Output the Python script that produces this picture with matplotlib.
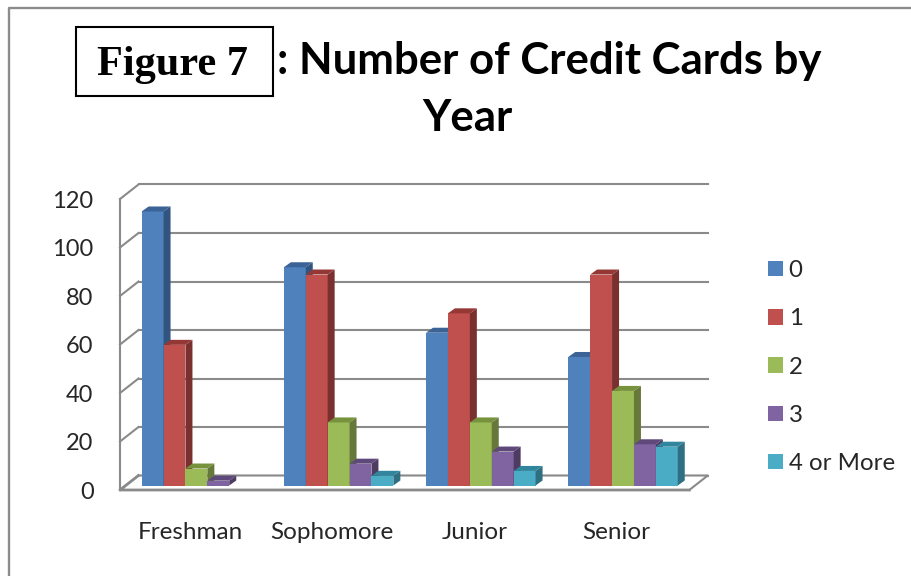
import numpy as np
import matplotlib
matplotlib.use('Agg')
import matplotlib.pyplot as plt

from matplotlib.patches import Polygon, Patch, Rectangle
from matplotlib.transforms import ScaledTranslation


years  = ['Freshman', 'Sophomore', 'Junior', 'Senior']
series = ['0', '1', '2', '3', '4 or More']

cards_0    = [113, 90, 63, 53]
cards_1    = [58, 87, 71, 87]
cards_2    = [7, 26, 26, 39]
cards_3    = [2, 9, 14, 17]
cards_4    = [0, 4, 6, 16]

y_ticks = [0, 20, 40, 60, 80, 100, 120]

front = ['#4f81bd', '#c0504d', '#9bbb59', '#8064a2', '#4bacc6']
side  = ['#31557f', '#7a302e', '#66783a', '#4d3b62', '#2e6f82']
top   = ['#3b6396', '#953735', '#76923c', '#5f497a', '#31859c']

GRID = '#8a8a8a'
TEXT = '#262626'

W, H = 912, 576

# one group step and one value unit, in pixels
X_PX = 142.2
Y_PX = 291 / 120
BAR  = 21.9 / X_PX

# bar depth, wall depth and the front edge of the floor
DX,  DY  = 7 / X_PX, 5 / Y_PX
WX,  WY  = 18.5 / X_PX, 10 / Y_PX
FY       = -4.5 / Y_PX

plt.rcParams['font.family'] = ['Lato', 'DejaVu Sans']

fig = plt.figure(figsize = (W / 100, H / 100), dpi = 100)
fig.patch.set_facecolor('white')


def fx(px):
    return px / W


def fy(px):
    return 1 - px / H


# outer chart border, open on the right and at the bottom
fig.add_artist(plt.Line2D([fx(9), fx(9), fx(912)], [fy(576), fy(7.5), fy(7.5)],
                          color = '#8c8c8c', lw = 1.7))

ax = fig.add_axes([fx(120), fy(485.5), (689.3 - 120) / W, 291 / H])
ax.set_xlim((120 - 196.4) / X_PX, (689.3 - 196.4) / X_PX)
ax.set_ylim(0, 120)
ax.patch.set_visible(False)

for spine in ax.spines.values():
    spine.set_visible(False)

x0, x1 = ax.get_xlim()

# back wall gridlines and the short connectors on the side wall
for v in y_ticks:
    ax.plot([x0 + WX, x1 + WX], [v + WY, v + WY], color = GRID, lw = 1.5,
            clip_on = False, zorder = 1)
    ax.plot([x0, x0 + WX], [v + FY, v + WY], color = GRID, lw = 1.5,
            clip_on = False, zorder = 1)

ax.plot([x0, x0], [FY, 120 + FY], color = GRID, lw = 1.5, clip_on = False, zorder = 1)

# floor
ax.add_patch(Polygon([(x0, FY), (x1, FY), (x1 + WX, WY), (x0 + WX, WY)], closed = True,
                     facecolor = 'white', edgecolor = 'none', clip_on = False, zorder = 1.5))
ax.plot([x0 + WX, x1 + WX, x1], [WY, WY, FY], color = GRID, lw = 1.5,
        clip_on = False, zorder = 2)
ax.plot([x0 + WX, x0, x1], [WY, FY, FY], color = GRID, lw = 2,
        clip_on = False, zorder = 2)

values = [cards_0, cards_1, cards_2, cards_3, cards_4]
pos    = np.arange(len(years))

for s, vals in enumerate(values):
    left = pos - 2.5 * BAR + s * BAR
    ax.bar(left, vals, BAR, align = 'edge', color = front[s], linewidth = 0,
           clip_on = False, zorder = 3 + s)

    for l, v in zip(left, vals):
        if v == 0:
            continue
        r = l + BAR
        ax.add_patch(Polygon([(r, 0), (r + DX, DY), (r + DX, v + DY), (r, v)], closed = True,
                             facecolor = side[s], linewidth = 0, clip_on = False, zorder = 3 + s))
        ax.add_patch(Polygon([(l, v), (r, v), (r + DX, v + DY), (l + DX, v + DY)], closed = True,
                             facecolor = top[s], linewidth = 0, clip_on = False, zorder = 3 + s))

ax.set_xticks(pos)
ax.set_xticklabels(years, fontsize = 17.5, color = TEXT)
ax.set_yticks(y_ticks)
ax.set_yticklabels([str(v) for v in y_ticks], fontsize = 17, color = TEXT)
ax.tick_params(axis = 'both', length = 0)
ax.tick_params(axis = 'x', pad = 26.5)
ax.tick_params(axis = 'y', pad = 19)

# the value labels sit against the front of the side wall, the year labels left of the groups
y_shift = ScaledTranslation(0, -5 / 100, fig.dpi_scale_trans)
for label in ax.get_yticklabels():
    label.set_transform(label.get_transform() + y_shift)

x_shift = ScaledTranslation(-6.5 / 100, 0, fig.dpi_scale_trans)
for label in ax.get_xticklabels():
    label.set_transform(label.get_transform() + x_shift)

handles = [Patch(facecolor = c, linewidth = 0) for c in front]
fig.legend(handles, series, loc = 'upper left', bbox_to_anchor = (fx(761), fy(253)),
           frameon = False, fontsize = 17.3, handlelength = 0.6, handleheight = 0.6,
           handletextpad = 0.25, labelspacing = 1.13, labelcolor = TEXT,
           borderpad = 0.3, borderaxespad = 0)

fig.text(fx(822), fy(61), ': Number of Credit Cards by', ha = 'right', va = 'center',
         fontsize = 31.5, fontweight = 'bold', color = 'black')
fig.text(fx(467), fy(118), 'Year', ha = 'center', va = 'center',
         fontsize = 31.5, fontweight = 'bold', color = 'black')

fig.add_artist(Rectangle((fx(76), fy(96)), 197 / W, 69 / H, transform = fig.transFigure,
                         facecolor = 'white', edgecolor = 'black', lw = 1.5, zorder = 5))
fig.text(fx(172.5), fy(65), 'Figure 7', ha = 'center', va = 'center', fontsize = 30.4,
         fontweight = 'bold', family = 'Liberation Serif', color = 'black', zorder = 6)

plt.savefig('out.png', format = 'png', dpi = 100)
plt.close()
